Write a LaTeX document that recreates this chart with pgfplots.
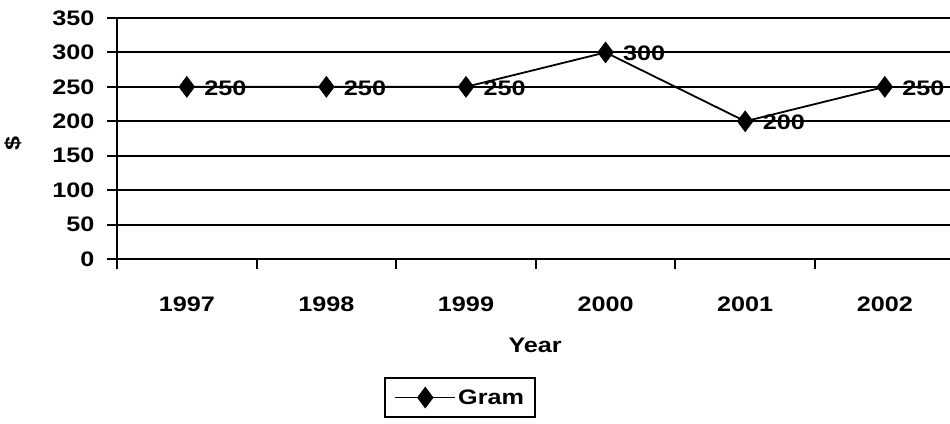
\documentclass[border=0pt]{standalone}
\usepackage{pgfplots}
\pgfplotsset{compat=1.18}
\usepackage{fontspec}
\setmainfont{Liberation Sans}[FakeStretch=1.2]
\begin{document}
\begin{tikzpicture}[font=\fontsize{21}{25}\selectfont\bfseries]
\begin{axis}[
  name=ax,
  x=139.6pt, y=0.6886pt,
  xmin=-0.5, xmax=5.467, ymin=0, ymax=350,
  axis x line=bottom, axis y line=left,
  axis line style={-, line width=2.2pt},
  tick align=outside,
  major tick length=10pt,
  tick style={black, line width=2pt},
  ytick={0,50,...,350},
  ymajorgrids, grid style={black, line width=2pt},
  xtick={0,1,2,3,4,5},
  xticklabels={1997,1998,1999,2000,2001,2002},
  xtick style={draw=none},
  extra x ticks={-0.5,0.5,1.5,2.5,3.5,4.5},
  extra x tick labels={},
  extra x tick style={xtick style={draw=black, line width=2pt}, major tick length=10pt},
  xticklabel style={anchor=center, yshift=-35pt},
  yticklabel style={anchor=east, xshift=-9pt},
  /pgf/number format/assume math mode=true,
  xlabel={Year}, ylabel={\$},
  xlabel style={at={(axis description cs:0.502,-0.357)}, anchor=center},
  ylabel style={at={(axis description cs:-0.1249,0.48)}, anchor=center},
  legend style={at={(0.412,-0.575)}, anchor=center, draw=black, line width=1.8pt,
    inner xsep=9pt, inner ysep=9pt, font=\fontsize{21}{25}\selectfont\bfseries},
  legend image code/.code={\draw[#1,mark repeat=2,mark phase=2] plot coordinates {(0pt,0pt) (30pt,0pt) (60pt,0pt)};},
  clip=true,
]
\addplot[black, line width=1.8pt, mark=diamond*, mark size=10.5pt,
  mark options={solid, line width=0.5pt},
  nodes near coords,
  every node near coord/.append style={anchor=west, xshift=14pt, yshift=-1pt, black, font=\fontsize{21}{25}\selectfont\bfseries},
] coordinates {(0,250) (1,250) (2,250) (3,300) (4,200) (5,250)};
\addlegendentry{Gram}
\end{axis}
\pgfresetboundingbox
\path ([shift={(-117pt,-164pt)}]ax.south west) rectangle ([shift={(833pt,259pt)}]ax.south west);
\end{tikzpicture}
\end{document}
